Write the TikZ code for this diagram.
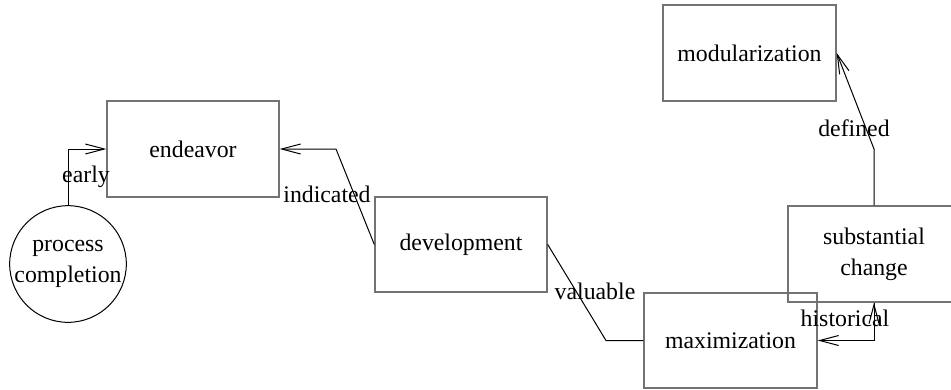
\documentclass[tikz,border=0pt]{standalone}
\usepackage{fontspec}
\setmainfont{Liberation Serif}
\usetikzlibrary{arrows.meta}
\begin{document}
\begin{tikzpicture}[x=1pt,y=-1pt,
  box/.style={draw=black!55,line width=1.4pt,minimum width=172pt,minimum height=96pt,inner sep=0pt,align=center,font=\fontsize{23.8}{31}\selectfont},
  circ/.style={circle,draw=black,line width=1pt,minimum size=115pt,inner sep=0pt,align=center,font=\fontsize{23.8}{31}\selectfont},
  conn/.style={draw=black,line width=1pt},
  tip/.style={-{Straight Barb[length=19pt,width=10pt,line width=1pt]}},
  lbl/.style={inner sep=0pt,font=\fontsize{23.8}{28}\selectfont}]
\useasboundingbox (0,0) rectangle (951,389);
\clip (0,0) rectangle (951,389);
\node[circ] (pc) at (68,264) {process\\completion};
\node[box] (end) at (193,149) {endeavor};
\node[box,minimum height=95pt] (dev) at (461,244.5) {development};
\node[box,minimum width=173pt,minimum height=95pt] (max) at (730.5,340.5) {maximization};
\node[box] (sub) at (874,254) {substantial\\change};
\node[box,minimum width=173pt] (mod) at (749.5,53) {modularization};
\coordinate (c1) at (336,149);
\coordinate (c2) at (606,340.5);
\coordinate (c3) at (874,149);
\draw[conn,tip] (pc.north) |- (end.west);
\draw[conn,tip] (dev.west) -- (c1) -- (end.east);
\draw[conn] (dev.east) -- (c2) -- (max.west);
\draw[conn,tip] (sub.south) |- (max.east);
\draw[conn,tip] (max.east -| sub.south) -- (sub.south);
\draw[conn,tip] (sub.north) -- (c3) -- (mod.east);
\node[lbl] (l1) at (86,177) {early};
\node[lbl] (l2) at (327,194) {indicated};
\node[lbl] (l3) at (595,291) {valuable};
\node[lbl] (l4) at (845,318) {historical};
\node[lbl] (l5) at (854,128) {defined};
\end{tikzpicture}
\end{document}
